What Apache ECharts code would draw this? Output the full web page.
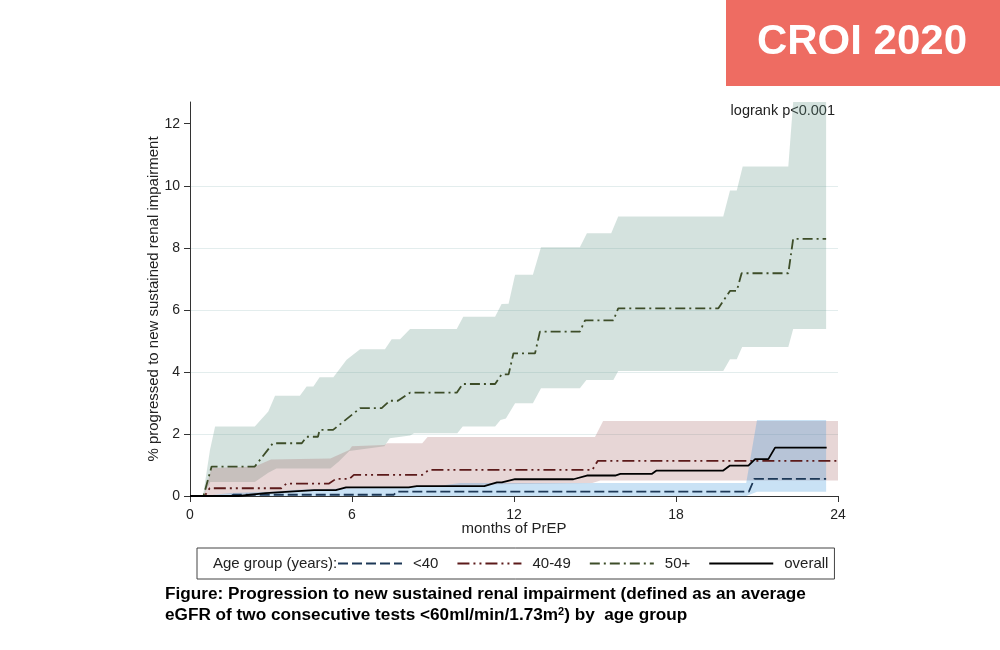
<!DOCTYPE html>
<html><head><meta charset="utf-8">
<script src="https://cdn.jsdelivr.net/npm/echarts@6/dist/echarts.min.js"></script>
<style>html,body{margin:0;padding:0;background:#fff}#c{width:1000px;height:650px}</style>
</head><body><div id="c"></div>
<script>
// ---- data (months, % progressed) ----
const xTicks = [0, 6, 12, 18, 24];
const yTicks = [0, 2, 4, 6, 8, 10, 12];
const legendNames = ['<40', '40-49', '50+', 'overall'];

const under40 = [[0,0],[1.5,0],[1.6,0.04],[7.55,0.04],[7.65,0.14],[20.7,0.14],[20.9,0.55],[23.56,0.55]];
const under40Upper = [[0.5,0],[1.5,0.1],[3,0.14],[4,0.2],[6,0.25],[9,0.3],[10,0.42],[20.6,0.42],[21.0,2.45],[23.56,2.45]];
const under40Lower = [[0.5,0],[20.6,0],[21.0,0.14],[23.56,0.14]];

const age4049 = [[0,0],[0.54,0],[0.73,0.25],[3.38,0.25],[3.57,0.4],[5.15,0.4],[5.4,0.55],[5.9,0.55],[6.07,0.68],[8.6,0.68],[8.85,0.84],[14.9,0.84],[15.1,1.13],[24,1.13]];
const age4049Upper = [[0.5,0],[0.8,0.9],[2.4,0.95],[3.0,1.18],[5.2,1.21],[5.9,1.48],[6.0,1.6],[7.2,1.64],[7.3,1.7],[8.6,1.7],[8.8,1.9],[15.0,1.9],[15.3,2.42],[24,2.42]];
const age4049Lower = [[0.5,0],[1,0.04],[3,0.1],[5.5,0.2],[6,0.25],[8.8,0.3],[11.5,0.38],[14.9,0.42],[15.2,0.5],[24,0.5]];

const age50 = [[0,0],[0.5,0],[0.8,0.95],[2.4,0.95],[3.07,1.7],[4.14,1.7],[4.32,1.91],[4.74,1.91],[4.8,2.13],[5.3,2.13],[6.3,2.83],[7.1,2.83],[7.4,3.07],[7.7,3.07],[8.15,3.33],[9.88,3.33],[10.1,3.61],[11.3,3.61],[11.54,3.92],[11.8,3.92],[11.98,4.6],[12.78,4.6],[12.96,5.3],[14.44,5.3],[14.63,5.66],[15.68,5.66],[15.86,6.05],[19.57,6.05],[20.0,6.61],[20.25,6.61],[20.43,7.18],[22.16,7.18],[22.34,8.29],[23.56,8.29]];
const age50Upper = [[0.48,0],[0.74,1.48],[0.93,2.24],[2.4,2.24],[2.9,2.72],[3.15,3.23],[4.07,3.23],[4.32,3.53],[4.57,3.53],[4.8,3.83],[5.31,3.83],[5.8,4.39],[6.3,4.73],[7.22,4.73],[7.47,5.05],[7.78,5.05],[8.15,5.38],[9.88,5.38],[10.12,5.78],[11.3,5.78],[11.54,6.19],[11.8,6.2],[12.04,7.13],[12.7,7.13],[13.0,8.02],[14.44,8.02],[14.7,8.47],[15.6,8.47],[15.86,9.01],[19.75,9.01],[20.0,9.85],[20.25,9.85],[20.47,10.62],[22.16,10.62],[22.34,12.7],[23.56,12.7]];
const age50Lower = [[0.48,0],[0.75,0.45],[2.4,0.45],[2.9,0.75],[3.2,0.89],[5.2,0.89],[5.5,1.1],[5.9,1.45],[7.2,1.6],[7.4,1.86],[8.15,1.95],[8.3,2.02],[9.9,2.02],[10.1,2.24],[11.3,2.24],[11.5,2.45],[11.7,2.5],[12.04,2.99],[12.7,2.99],[13.0,3.47],[14.44,3.47],[14.68,3.74],[15.68,3.74],[15.86,4.03],[19.75,4.03],[20.0,4.41],[20.25,4.41],[20.45,4.8],[22.16,4.8],[22.34,5.38],[23.56,5.38]];

const overall = [[0,0],[1.8,0],[2.8,0.09],[3.7,0.14],[4.6,0.19],[5.4,0.19],[5.78,0.28],[8.1,0.28],[8.4,0.32],[10.9,0.32],[11.37,0.44],[11.55,0.44],[12.04,0.54],[14.2,0.54],[14.7,0.66],[15.75,0.66],[15.94,0.71],[17.1,0.71],[17.28,0.82],[19.75,0.82],[20.0,0.98],[20.68,0.98],[20.93,1.19],[21.42,1.19],[21.67,1.56],[23.58,1.56]];

const FONT = '"Liberation Sans", Arial, sans-serif';

function band(name, upper, lower, fill) {
  return {
    type: 'custom', name: name, silent: true, z: 1,
    data: [[0, 0]], encode: {x: 0, y: 1}, clip: true,
    renderItem: function (params, api) {
      const pts = upper.map(p => api.coord(p)).concat(lower.slice().reverse().map(p => api.coord(p)));
      return {type: 'polygon', shape: {points: pts}, style: {fill: fill}};
    }
  };
}
function line(name, data, color, dash, width) {
  return {
    type: 'line', name: name, data: data, symbol: 'none', showSymbol: false, z: 5,
    lineStyle: {color: color, width: width, type: dash}, itemStyle: {color: color}
  };
}

const chart = echarts.init(document.getElementById('c'), null, {renderer: 'canvas'});
chart.setOption({
  animation: false,
  backgroundColor: '#fff',
  grid: {left: 190, right: 162, top: 102, bottom: 154, containLabel: false},
  xAxis: {
    type: 'value', min: 0, max: 24, interval: 6,
    name: 'months of PrEP', nameLocation: 'middle', nameGap: 25, nameMoveOverlap: false,
    nameTextStyle: {fontSize: 15, color: '#222', fontFamily: FONT},
    axisLine: {show: true, lineStyle: {color: '#333', width: 1}},
    axisTick: {show: true, length: 6, lineStyle: {color: '#333'}, customValues: xTicks},
    axisLabel: {fontSize: 14, color: '#222', margin: 12, fontFamily: FONT, customValues: xTicks},
    splitLine: {show: false}
  },
  yAxis: {
    type: 'value', min: 0, max: 12.7, interval: 2,
    name: '% progressed to new sustained renal impairment', nameLocation: 'middle', nameGap: 29, nameMoveOverlap: false,
    nameTextStyle: {fontSize: 15, color: '#222', fontFamily: FONT},
    axisLine: {show: true, lineStyle: {color: '#333', width: 1}},
    axisTick: {show: true, length: 6, lineStyle: {color: '#333'}, customValues: yTicks},
    axisLabel: {fontSize: 14, color: '#222', margin: 10, fontFamily: FONT, customValues: yTicks},
    splitLine: {show: true, showMinLine: false, showMaxLine: false, lineStyle: {color: '#e3eded', width: 1}}
  },
  legend: {
    left: 197, top: 548, orient: 'horizontal',
    padding: [8, 6, 8, 140], borderColor: '#444', borderWidth: 1,
    itemWidth: 64, itemHeight: 14, itemGap: 18,
    itemStyle: {opacity: 0},
    textStyle: {fontSize: 15, color: '#222', fontFamily: FONT, padding: [0, 0, 0, 6]},
    data: legendNames, selectedMode: false
  },
  graphic: [
    {type: 'rect', left: 726, top: 0, shape: {width: 274, height: 86}, style: {fill: '#ee6c62'}},
    {type: 'text', x: 862, y: 42, style: {text: 'CROI 2020', fill: '#fff', font: 'bold 42px ' + FONT, align: 'center', verticalAlign: 'middle'}},
    {type: 'text', x: 835, y: 111, style: {text: 'logrank p<0.001', fill: '#222', font: '14.5px ' + FONT, align: 'right', verticalAlign: 'middle'}},
    {type: 'text', x: 213, y: 564, style: {text: 'Age group (years):', fill: '#222', font: '15px ' + FONT, align: 'left', verticalAlign: 'middle'}},
    {type: 'text', x: 165, y: 584, style: {
      text: '{m|Figure: Progression to new sustained renal impairment (defined as an average}\n{m|eGFR of two consecutive tests <60ml/min/1.73m}{s|2}{m|) by  age group}',
      align: 'left', verticalAlign: 'top',
      rich: {
        m: {fill: '#000', font: 'bold 17.2px ' + FONT, lineHeight: 21},
        s: {fill: '#000', font: 'bold 11px ' + FONT, lineHeight: 21, verticalAlign: 'top', padding: [1, 0, 0, 0]}
      }
    }}
  ],
  series: [
    band('band50', age50Upper, age50Lower, 'rgba(100,150,135,0.28)'),
    band('band4049', age4049Upper, age4049Lower, 'rgba(160,90,90,0.25)'),
    band('band40', under40Upper, under40Lower, 'rgba(60,150,220,0.28)'),
    line('<40', under40, '#1d3857', [10, 4], 1.8),
    line('40-49', age4049, '#5c1a1a', [12, 4, 2, 4, 2, 4], 1.8),
    line('50+', age50, '#3d4d28', [10, 4, 2, 4], 1.8),
    line('overall', overall, '#000000', 'solid', 1.8)
  ]
});
</script></body></html>
